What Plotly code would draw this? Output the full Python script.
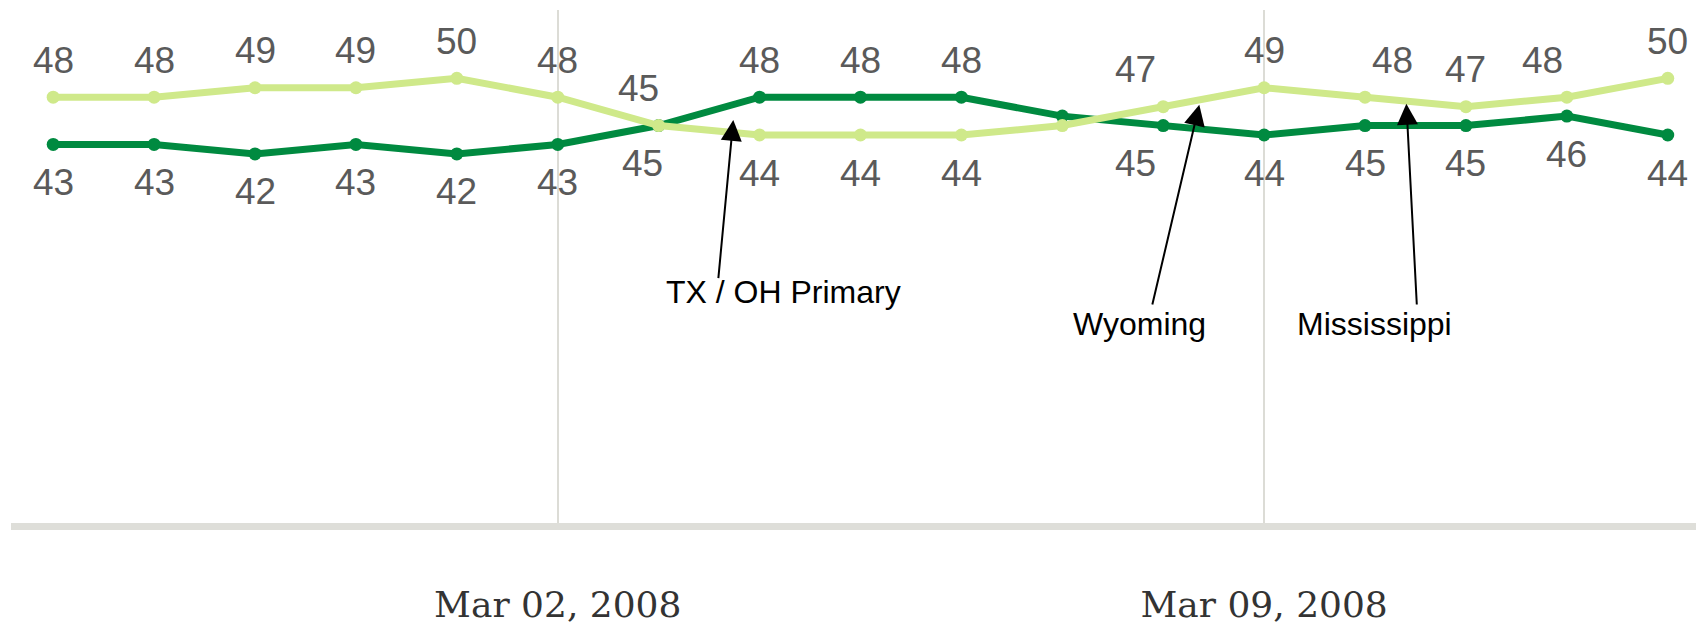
import pandas as pd
import plotly.graph_objects as go

# ---------------- data ----------------
dates = ["2008-02-26", "2008-02-27", "2008-02-28", "2008-02-29", "2008-03-01",
         "2008-03-02", "2008-03-03", "2008-03-04", "2008-03-05", "2008-03-06",
         "2008-03-07", "2008-03-08", "2008-03-09", "2008-03-10", "2008-03-11",
         "2008-03-12", "2008-03-13"]
light_name = "Obama"
light_values = [48, 48, 49, 49, 50, 48, 45, 44, 44, 44, 45, 47, 49, 48, 47, 48, 50]
dark_name = "Clinton"
dark_values = [43, 43, 42, 43, 42, 43, 45, 48, 48, 48, 46, 45, 44, 45, 45, 46, 44]

callout_texts = ["TX / OH Primary", "Wyoming", "Mississippi"]
callout_tip_dates = ["2008-03-03 17:45", "2008-03-08 08:35", "2008-03-10 09:50"]
callout_tip_values = [45.6, 47.2, 47.3]
callout_tail_dates = ["2008-03-03 14:10", "2008-03-07 21:20", "2008-03-10 12:20"]
callout_tail_values = [28.7, 25.9, 25.9]
callout_text_dates = ["2008-03-04 05:45", "2008-03-07 18:15", "2008-03-10 02:10"]
callout_text_values = [27.4, 24.0, 24.0]

# ---------------- styles ----------------
LIGHT = "#cfe98a"
DARK = "#008a40"
LABEL_COLOR = "#5a5a5a"
hidden_label_idx = {10}
label_xshift = {("light", 6): -20, ("dark", 6): -16,
                ("light", 11): -28, ("dark", 11): -28,
                ("light", 13): 27, ("light", 15): -24}

x = pd.to_datetime(dates)

fig = go.Figure()
for name, vals, col in ((dark_name, dark_values, DARK), (light_name, light_values, LIGHT)):
    fig.add_trace(go.Scatter(
        x=x, y=vals, name=name, mode="lines+markers",
        line=dict(color=col, width=7),
        marker=dict(color=col, size=13),
        hoverinfo="x+y+name",
    ))

annotations = []
series = {"light": light_values, "dark": dark_values}
for i, d in enumerate(x):
    if i in hidden_label_idx:
        continue
    for key, other in (("light", "dark"), ("dark", "light")):
        v = series[key][i]
        o = series[other][i]
        above = v > o or (v == o and key == "light")
        annotations.append(dict(
            x=d, y=v, text=str(v), showarrow=False,
            xanchor="center", yanchor="middle",
            yshift=37 if above else -38,
            xshift=label_xshift.get((key, i), 0),
            font=dict(family="Liberation Sans", size=37, color=LABEL_COLOR),
        ))

for t, td, tv, ad, av, xd, xv in zip(callout_texts, callout_tip_dates, callout_tip_values,
                                      callout_tail_dates, callout_tail_values,
                                      callout_text_dates, callout_text_values):
    annotations.append(dict(
        x=pd.Timestamp(td), y=tv, xref="x", yref="y",
        ax=pd.Timestamp(ad), ay=av, axref="x", ayref="y",
        text="", showarrow=True, arrowhead=2, arrowsize=2.1, arrowwidth=2,
        arrowcolor="black", standoff=0, startstandoff=0,
    ))
    annotations.append(dict(
        x=pd.Timestamp(xd), y=xv, xref="x", yref="y", text=t, showarrow=False,
        xanchor="center", yanchor="middle",
        font=dict(family="Liberation Sans", size=32, color="black"),
    ))

x_start = pd.Timestamp("2008-02-25 13:58")
x_end = pd.Timestamp("2008-03-13 06:43")

fig.update_layout(
    width=1696, height=629,
    margin=dict(l=11, r=0, t=10, b=106, pad=0),
    paper_bgcolor="white", plot_bgcolor="white",
    showlegend=False,
    annotations=annotations,
    xaxis=dict(
        range=[x_start, x_end],
        tick0="2008-03-02", dtick=7 * 24 * 3600 * 1000,
        tickformat="%b %d, %Y",
        tickfont=dict(family="DejaVu Serif", size=36, color="#333333"),
        ticks="outside", ticklen=44, tickcolor="rgba(0,0,0,0)",
        showgrid=True, gridcolor="#dcdcd6", gridwidth=2,
        showline=True, linecolor="#deded9", linewidth=7,
        zeroline=False,
    ),
    yaxis=dict(range=[2.94, 57.23], visible=False, showgrid=False, zeroline=False),
)

fig.write_html("out.html", config={"displayModeBar": False},
               post_script="document.body.style.margin='0';document.body.style.overflow='hidden';")
